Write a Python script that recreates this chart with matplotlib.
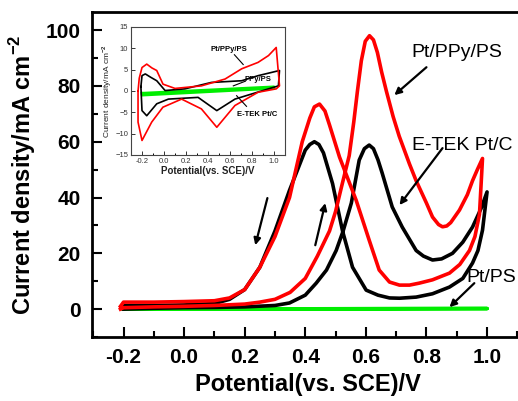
import matplotlib
matplotlib.use("Agg")
import matplotlib.pyplot as plt
from matplotlib.ticker import MultipleLocator

plt.rcParams['font.family'] = ['Liberation Sans', 'DejaVu Sans']
plt.rcParams['mathtext.fontset'] = 'custom'
plt.rcParams['mathtext.rm'] = 'Liberation Sans:bold'
plt.rcParams['mathtext.bf'] = 'Liberation Sans:bold'
plt.rcParams['lines.solid_joinstyle'] = 'round'

# ---- main CV data (forward + reverse scans) ----
ppy_fwd_v = [-0.21, -0.2, -0.1, 0.0, 0.1, 0.2, 0.25, 0.3, 0.35, 0.4, 0.44, 0.48, 0.50, 0.52, 0.545,
             0.56, 0.572, 0.585, 0.598, 0.612, 0.625, 0.638, 0.652, 0.668, 0.69, 0.71, 0.744, 0.766,
             0.8, 0.82, 0.84, 0.853, 0.867, 0.88, 0.909, 0.935, 0.952, 0.968, 0.985]
ppy_fwd_i = [0, 0.5, 0.8, 1.0, 1.3, 1.8, 2.5, 3.5, 6, 11, 19, 28, 35, 44, 55,
             67, 78, 89, 96, 98, 96.5, 92, 85, 78, 69, 62, 52, 46,
             38, 33, 30.3, 29.5, 29.8, 31, 35.5, 41, 46, 50, 54]
ppy_rev_v = [0.985, 0.975, 0.96, 0.942, 0.91, 0.876, 0.82, 0.776, 0.744, 0.711, 0.678, 0.644,
             0.611, 0.568, 0.513, 0.48, 0.465, 0.447, 0.43, 0.415, 0.39, 0.348, 0.3, 0.25, 0.2,
             0.15, 0.1, 0.0, -0.1, -0.2, -0.21]
ppy_rev_i = [54, 34, 26, 21, 16, 12.9, 10.5, 9.3, 8.6, 8.6, 9.7, 14,
             24.7, 39, 54.5, 66, 71, 73.5, 72.5, 68.5, 60, 40, 26, 15, 7,
             4, 3, 2.7, 2.5, 2.5, 1]

etek_fwd_v = [-0.2, -0.1, 0.0, 0.1, 0.2, 0.3, 0.348, 0.4, 0.436, 0.47, 0.502, 0.525, 0.552,
              0.578, 0.595, 0.611, 0.625, 0.64, 0.654, 0.687, 0.72, 0.766, 0.79, 0.82, 0.85,
              0.886, 0.92, 0.952, 0.98, 1.0]
etek_fwd_i = [0, 0.3, 0.5, 0.6, 0.8, 1.3, 2.2, 5, 9.3, 14, 21, 28, 38,
              53.4, 57.5, 58.8, 57.5, 53.5, 48.7, 36.6, 29.4, 21, 19, 17.6, 18,
              20, 24, 29.4, 36, 42]
etek_rev_v = [1.0, 0.985, 0.97, 0.952, 0.92, 0.876, 0.82, 0.766, 0.711, 0.678, 0.64, 0.601,
              0.556, 0.523, 0.49, 0.46, 0.445, 0.43, 0.415, 0.4, 0.348, 0.3, 0.25, 0.2, 0.15,
              0.1, 0.0, -0.1, -0.2]
etek_rev_i = [42, 28.3, 21, 16.5, 11, 7.9, 5.5, 4.3, 3.9, 4, 5, 6.8,
              15, 28, 45, 56, 59, 60, 59, 57, 42.6, 28, 15, 7, 3.5,
              2, 1.5, 1.3, 1.2]

ptps_v = [-0.2, 1.0, -0.2]
ptps_i = [0, 0.2, 0]

# ---- inset data ----
in_ppy_v = [-0.236, -0.225, -0.2, -0.157, -0.11, -0.066, -0.009, 0.1, 0.34, 0.555, 0.706, 0.855,
            0.95, 1.02, 1.05, 1.02, 0.855, 0.645, 0.48, 0.34, 0.16, -0.01, -0.112, -0.2,
            -0.236, -0.236]
in_ppy_i = [0, 3, 5.5, 6.3, 5.4, 4.8, 1.6, 0.6, 1.2, 2.8, 5.2, 6.7,
            8.3, 10.2, 1.2, 0.5, -0.3, -3.4, -8.5, -4.2, -1.9, -3.8, -7.3, -11.6,
            -7.3, 0]
in_etek_v = [-0.21, -0.2, -0.17, -0.12, -0.066, 0.01, 0.19, 0.43, 0.706, 0.857, 1.05, 1.04,
             0.95, 0.645, 0.48, 0.31, 0.04, -0.066, -0.157, -0.2, -0.21]
in_etek_i = [1, 3.6, 4, 3.2, 2.4, 0.1, 0.5, 2, 2.4, 3.6, 4.8, 1.2,
             0.5, -1.9, -4.6, -1.5, -1.9, -3, -5.8, -4.6, 1]
in_ptps_v = [-0.2, 1.0, 1.0, -0.2, -0.2]
in_ptps_i = [-0.5, 1.0, 0.6, -1.0, -0.5]

fig = plt.figure(figsize=(5.18, 4.01), dpi=100)
ax = fig.add_axes([0.1776, 0.1596, 0.834, 0.8105])

lw = 2.6
ax.plot(ptps_v, ptps_i, color='#00ee00', lw=lw)
ax.plot(etek_fwd_v + etek_rev_v, etek_fwd_i + etek_rev_i, color='black', lw=lw)
ax.plot(ppy_fwd_v + ppy_rev_v, ppy_fwd_i + ppy_rev_i, color='red', lw=lw)

ax.set_xlim(-0.304, 1.122)
ax.set_ylim(-10, 106.5)
ax.xaxis.set_minor_locator(MultipleLocator(0.1))
ax.yaxis.set_major_locator(MultipleLocator(20))
ax.yaxis.set_minor_locator(MultipleLocator(10))
ax.set_xticks([-0.2, 0.0, 0.2, 0.4, 0.6, 0.8, 1.0])
ax.set_xticklabels(['-0.2', '0.0', '0.2', '0.4', '0.6', '0.8', '1.0'])
ax.tick_params(which='major', direction='in', length=7, width=1.5, labelsize=15, pad=8)
ax.tick_params(which='minor', direction='in', length=4, width=1.5)
for lab in ax.get_xticklabels() + ax.get_yticklabels():
    lab.set_fontweight('bold')
for s in ax.spines.values():
    s.set_linewidth(2)

ax.set_xlabel('Potential(vs. SCE)/V', fontsize=17, fontweight='bold', labelpad=4)
ax.set_ylabel('Current density/mA cm$^{-2}$', fontsize=17, fontweight='bold', labelpad=6)

arr = dict(arrowstyle='-|>', color='black', lw=1.6, mutation_scale=10, shrinkA=0, shrinkB=0)
ax.text(0.899, 92, 'Pt/PPy/PS', fontsize=14, ha='center', va='center')
ax.annotate('', xy=(0.694, 76.7), xytext=(0.80, 86.7), arrowprops=arr)
ax.text(0.919, 58.8, 'E-TEK Pt/C', fontsize=14, ha='center', va='center')
ax.annotate('', xy=(0.711, 37.3), xytext=(0.853, 57.7), arrowprops=arr)
ax.text(1.014, 11.5, 'Pt/PS', fontsize=14, ha='center', va='center')
ax.annotate('', xy=(0.876, 0.7), xytext=(0.958, 9.3), arrowprops=arr)
ax.annotate('', xy=(0.235, 22.9), xytext=(0.275, 39.8), arrowprops=arr)
ax.annotate('', xy=(0.466, 38.0), xytext=(0.433, 22.9), arrowprops=arr)

# ---- inset ----
ins = fig.add_axes([0.2529, 0.6135, 0.2973, 0.3192])
ins.plot(in_ptps_v, in_ptps_i, color='#00ee00', lw=1.8)
ins.plot(in_etek_v, in_etek_i, color='black', lw=1.2)
ins.plot(in_ppy_v, in_ppy_i, color='red', lw=1.2)
ins.set_xlim(-0.3, 1.1)
ins.set_ylim(-15, 15)
ins.set_xticks([-0.2, 0.0, 0.2, 0.4, 0.6, 0.8, 1.0])
ins.set_xticklabels(['-0.2', '0.0', '0.2', '0.4', '0.6', '0.8', '1.0'])
ins.xaxis.set_minor_locator(MultipleLocator(0.1))
ins.yaxis.set_major_locator(MultipleLocator(5))
ins.tick_params(which='major', direction='in', length=3, width=0.7, labelsize=5.5, pad=2,
                colors='#333333')
ins.tick_params(which='minor', direction='in', length=1.5, width=0.7)
for s in ins.spines.values():
    s.set_linewidth(0.8)
    s.set_color('#444444')
ins.set_xlabel('Potential(vs. SCE)/V', fontsize=7, fontweight='bold', labelpad=1, color='#222222')
ins.set_ylabel('Current density/mA cm$^{-2}$', fontsize=6, labelpad=1, color='#222222')
ins.text(0.59, 9.8, 'Pt/PPy/PS', fontsize=5.5, fontweight='bold', ha='center', va='center')
ins.plot([0.64, 0.72], [8.5, 6.2], color='black', lw=0.8)
ins.text(0.85, 2.6, 'PPy/PS', fontsize=5.5, fontweight='bold', ha='center', va='center')
ins.plot([0.63, 0.74], [1.2, 2.3], color='black', lw=0.8)
ins.text(0.85, -5.4, 'E-TEK Pt/C', fontsize=5.5, fontweight='bold', ha='center', va='center')
ins.plot([0.66, 0.75], [-1.1, -3.6], color='black', lw=0.8)

fig.savefig('out.png', dpi=100)
